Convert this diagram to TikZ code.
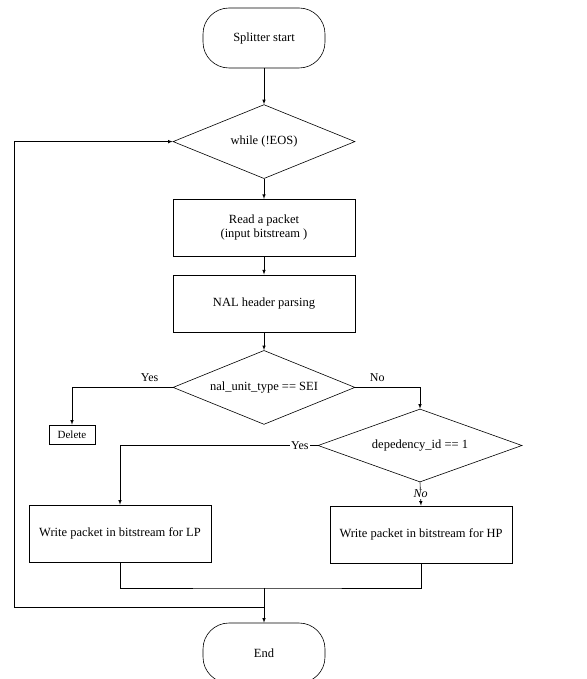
\documentclass[tikz,border=0pt]{standalone}
\usepackage{fontspec}
\setmainfont{Liberation Serif}
\usetikzlibrary{positioning,shapes.geometric}

\begin{document}
\begin{tikzpicture}
            [
                x=1pt, y=1pt, >=latex,
                every node/.style={font=\fontsize{12.5pt}{14.5pt}\selectfont},
                terminal/.style={rectangle, rounded corners=26pt, draw, minimum width=122pt, minimum height=60pt},
                caixa/.style={rectangle, draw, align=center, minimum width=182pt, minimum height=57pt},
                decisao/.style={diamond, draw, inner sep=0pt, aspect=2.5, minimum width=182pt, minimum height=74pt},
                rotulo/.style={font=\fontsize{12pt}{14pt}\selectfont, inner sep=1pt},
                linha/.style={draw, line width=0.6pt},
            ]
            %obs: \usetikzlibrary{positioning}
            \useasboundingbox (0,0) rectangle (586,-679);
            \node[terminal, line width=0.6pt] (start) at (264,-38) {Splitter start};
            \node[decisao, line width=0.6pt] (while) [below=36pt of start] {while (!EOS)};
            \node[caixa, line width=0.6pt] (read) [below=20pt of while] {Read a packet\\(input bitstream )};
            \node[caixa, line width=0.6pt] (nal) [below=18pt of read] {NAL header parsing};
            \node[decisao, line width=0.6pt] (sei) [below=18pt of nal] {nal\_unit\_type == SEI};
            \node[draw, line width=0.6pt, minimum width=46pt, minimum height=19pt, inner sep=1pt,
                  font=\fontsize{11pt}{12pt}\selectfont] (delete) at (72,-434.5) {Delete};
            \node[decisao, line width=0.6pt, aspect=2.8, minimum width=204pt, minimum height=73pt] (dep) at (420,-445.5) {depedency\_id == 1};
            \node[caixa, line width=0.6pt] (lp) at (120,-533.5) {Write packet in bitstream for LP};
            \node[caixa, line width=0.6pt] (hp) at (421,-534.5) {Write packet in bitstream for HP};
            \node[terminal, line width=0.6pt] (end) at (264,-653) {End};
            % pontos de juncao
            \coordinate (join) at (264,-588);
            \coordinate (back) at (264,-607);
            \coordinate (corner) at (14,-607);
            % ligacoes
            \draw[linha, ->] (start) -- (while);
            \draw[linha, ->] (while) -- (read);
            \draw[linha, ->] (read) -- (nal);
            \draw[linha, ->] (nal) -- (sei);
            \draw[linha, ->] (sei.west) -| node[rotulo, above=4pt, pos=0.115] {Yes} (delete.north);
            \draw[linha, ->] (sei.east) -| node[rotulo, above=4pt, pos=0.17] {No} (dep.north);
            \draw[linha, ->] (dep.west) -| node[rotulo, fill=white, pos=0.045] {Yes} (lp.north);
            \draw[linha, ->] (dep.south) -- node[rotulo, fill=white, font=\itshape\fontsize{12pt}{14pt}\selectfont] {No} (hp.north);
            \draw[linha] (lp.south) |- (join) -| (hp.south);
            \draw[linha, ->] (join) -- (end.north);
            \draw[linha, ->] (back) -- (corner) |- (while.west);
        \end{tikzpicture}
\end{document}
